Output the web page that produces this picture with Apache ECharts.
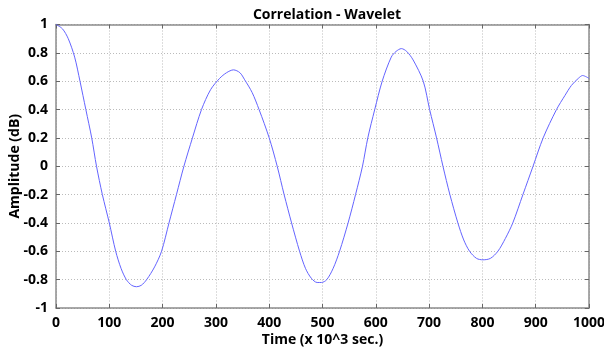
<!DOCTYPE html>
<html><head><meta charset="utf-8">
<script src="https://cdn.jsdelivr.net/npm/echarts@6/dist/echarts.min.js"></script>
<style>html,body{margin:0;padding:0;background:#fff}#c{width:604px;height:351px}</style>
</head><body><div id="c"></div>
<script>
const titleText = "Correlation - Wavelet";
const xName = "Time (x 10^3 sec.)";
const yName = "Amplitude (dB)";
const time = [0,12,23,35,45,56,67,76,87,100,112,122,132,142,151,160,170,185,198,212,226,240,256,273,290,307,320,333,345,354,368,381,400,415,428,442,457,468,479,490,498,508,520,532,548,562,575,585,598,612,629,638,648,658,670,689,701,714,726,739,754,765,776,789,801,815,829,843,857,876,895,914,939,955,967,980,988,1000];
const amplitude = [1.0,0.97,0.90,0.77,0.60,0.40,0.20,0.0,-0.20,-0.40,-0.60,-0.72,-0.80,-0.84,-0.85,-0.84,-0.80,-0.71,-0.60,-0.40,-0.20,0.0,0.20,0.40,0.54,0.62,0.66,0.68,0.66,0.61,0.52,0.40,0.20,0.0,-0.20,-0.40,-0.60,-0.72,-0.79,-0.82,-0.82,-0.80,-0.72,-0.60,-0.40,-0.20,0.0,0.20,0.40,0.60,0.77,0.81,0.83,0.81,0.75,0.60,0.40,0.20,0.0,-0.20,-0.40,-0.52,-0.60,-0.65,-0.66,-0.65,-0.60,-0.51,-0.40,-0.20,0.0,0.20,0.40,0.50,0.57,0.62,0.64,0.62];

const font = "'Open Sans', 'Liberation Sans', sans-serif";
const axisCol = '#8c8c8c';
const chart = echarts.init(document.getElementById('c'), null, {renderer:'canvas'});
const baseAxis = {
  axisLine:{show:true,onZero:false,lineStyle:{color:axisCol,width:1.5}},
  axisTick:{show:true,inside:true,length:4,lineStyle:{color:'#666'}},
  splitLine:{show:false}
};
chart.setOption({
  animation:false,
  title:{text:titleText,left:322,top:3,textAlign:'center',textStyle:{fontFamily:font,fontSize:14,fontWeight:'bold',color:'#000'}},
  grid:{left:56,right:15,top:24.5,bottom:43,containLabel:false,outerBoundsMode:'none'},
  xAxis:[
    Object.assign({},baseAxis,{type:'value',min:0,max:1000,interval:100,position:'bottom',
      name:xName,nameLocation:'middle',nameGap:25,nameMoveOverlap:false,
      nameTextStyle:{fontFamily:font,fontSize:14,fontWeight:'bold',color:'#000'},
      axisLabel:{fontFamily:font,fontSize:14,fontWeight:'bold',color:'#000',margin:8,formatter:v=>String(v)},
      splitLine:{show:true,lineStyle:{color:'#bbb',type:[1,2],width:1}}}),
    Object.assign({},baseAxis,{type:'value',min:0,max:1000,interval:100,position:'top',axisLabel:{show:false}})
  ],
  yAxis:[
    Object.assign({},baseAxis,{type:'value',min:-1,max:1,interval:0.2,position:'left',
      name:yName,nameLocation:'middle',nameGap:34,nameMoveOverlap:false,
      nameTextStyle:{fontFamily:font,fontSize:14,fontWeight:'bold',color:'#000'},
      axisLabel:{fontFamily:font,fontSize:14,fontWeight:'bold',color:'#000',margin:8,
        formatter:v=>String(Math.round(v*10)/10)},
      splitLine:{show:true,lineStyle:{color:'#bbb',type:[1,2],width:1}}}),
    Object.assign({},baseAxis,{type:'value',min:-1,max:1,interval:0.2,position:'right',axisLabel:{show:false}})
  ],
  series:[{type:'line',data:time.map((t,i)=>[t,amplitude[i]]),smooth:0.3,showSymbol:false,
    lineStyle:{color:'#6464ff',width:1},xAxisIndex:0,yAxisIndex:0}]
});
</script></body></html>
